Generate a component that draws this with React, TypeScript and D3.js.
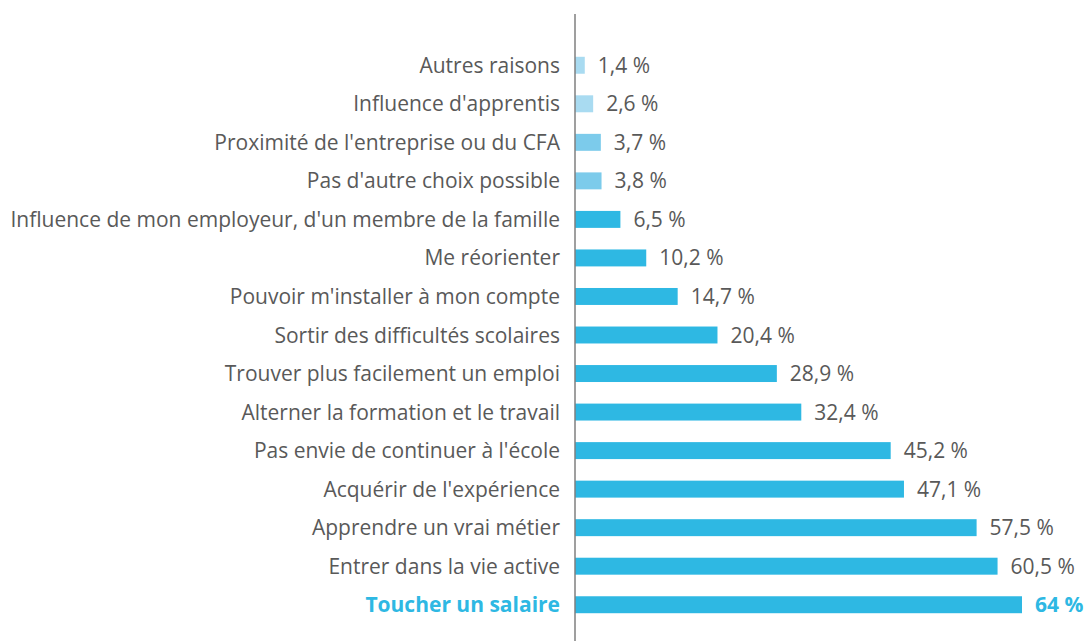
import React from "react";
import * as d3 from "d3";

const categories = [
  "Autres raisons",
  "Influence d'apprentis",
  "Proximité de l'entreprise ou du CFA",
  "Pas d'autre choix possible",
  "Influence de mon employeur, d'un membre de la famille",
  "Me réorienter",
  "Pouvoir m'installer à mon compte",
  "Sortir des difficultés scolaires",
  "Trouver plus facilement un emploi",
  "Alterner la formation et le travail",
  "Pas envie de continuer à l'école",
  "Acquérir de l'expérience",
  "Apprendre un vrai métier",
  "Entrer dans la vie active",
  "Toucher un salaire",
];
const values = [1.4, 2.6, 3.7, 3.8, 6.5, 10.2, 14.7, 20.4, 28.9, 32.4, 45.2, 47.1, 57.5, 60.5, 64];
const valueLabels = ["1,4 %", "2,6 %", "3,7 %", "3,8 %", "6,5 %", "10,2 %", "14,7 %", "20,4 %", "28,9 %", "32,4 %", "45,2 %", "47,1 %", "57,5 %", "60,5 %", "64 %"];

const W = 1087;
const H = 641;
const x0 = 575;
const FONT = "'Open Sans', sans-serif";
const FS = 21;

function barColor(i: number) {
  if (i < 2) return "#a9dbf1";
  if (i < 4) return "#7ccbeb";
  return "#2eb8e3";
}

export default function App() {
  const x = d3.scaleLinear().domain([0, 64]).range([x0, 1022]);
  const y = d3
    .scaleBand<string>()
    .domain(categories)
    .range([46, 624])
    .paddingInner(0.56)
    .paddingOuter(0.28);
  const last = categories.length - 1;
  return (
    <svg width={W} height={H} style={{ position: "absolute", left: 0, top: 0 }}>
      {categories.map((c, i) => {
        const yc = (y(c) as number) + y.bandwidth() / 2;
        const hl = i === last;
        return (
          <g key={c}>
            <rect x={x(0)} y={y(c)} width={x(values[i]) - x(0)} height={y.bandwidth()} fill={barColor(i)} />
            <text
              x={560}
              y={yc}
              dy="0.36em"
              textAnchor="end"
              fontFamily={FONT}
              fontSize={FS}
              fontWeight={hl ? 700 : 400}
              fill={hl ? "#2eb8e3" : "#595959"}
            >
              {c}
            </text>
            <text
              x={x(values[i]) + 13}
              y={yc}
              dy="0.36em"
              fontFamily={FONT}
              fontSize={FS}
              fontWeight={hl ? 700 : 400}
              fill={hl ? "#2eb8e3" : "#595959"}
            >
              {valueLabels[i]}
            </text>
          </g>
        );
      })}
      <line x1={x0} x2={x0} y1={14} y2={641} stroke="#7f7f7f" strokeWidth={1.5} />
    </svg>
  );
}
